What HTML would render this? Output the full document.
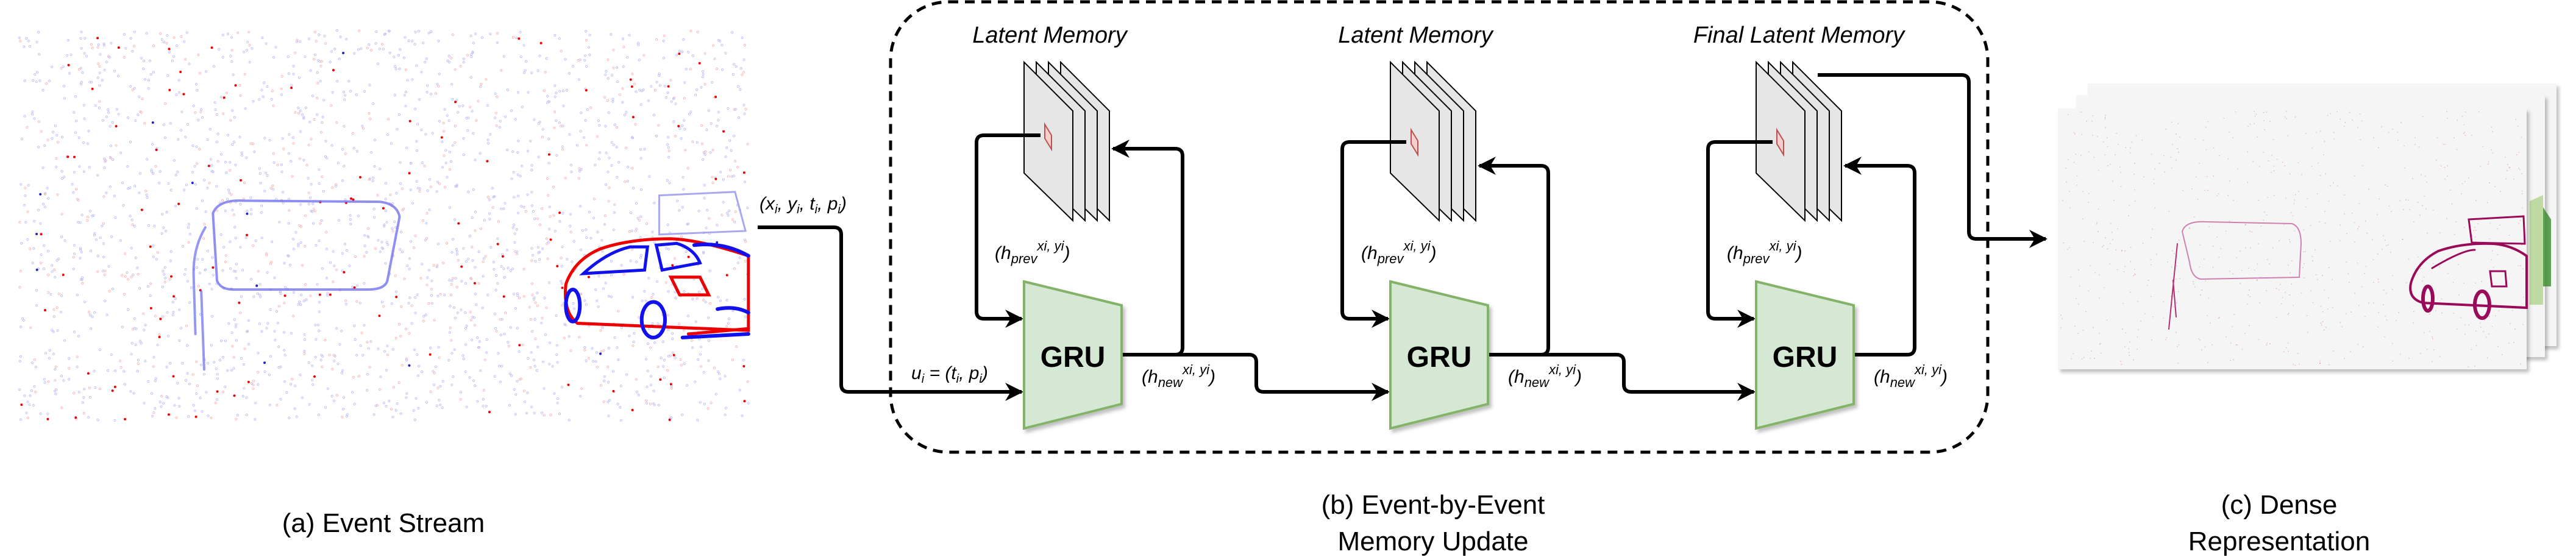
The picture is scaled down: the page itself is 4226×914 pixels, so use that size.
<!DOCTYPE html>
<html><head><meta charset="utf-8"><style>
html,body{margin:0;padding:0;background:#fff;overflow:hidden;}
svg{display:block;}
text{font-family:"Liberation Sans",sans-serif;}
</style></head><body>
<svg id="s" width="4226" height="914" viewBox="0 0 4226 914" xmlns="http://www.w3.org/2000/svg">
<defs>
<marker id="ar" viewBox="0 0 10 10" refX="9" refY="5" markerWidth="5" markerHeight="5" orient="auto" markerUnits="strokeWidth">
<path d="M0,0 L10,5 L0,10 L3,5 z" fill="#000"/>
</marker>
<filter id="sh" x="-5%" y="-5%" width="115%" height="115%"><feDropShadow dx="4" dy="5" stdDeviation="3" flood-color="#000" flood-opacity="0.25"/></filter>
</defs>

<g id="ev"></g>

<rect x="1461" y="3" width="1800" height="739" rx="95" fill="none" stroke="#000" stroke-width="5" stroke-dasharray="16 11"/>

<g id="stacks"></g>

<g fill="none" stroke="#000" stroke-width="6" stroke-linejoin="round">
<path d="M1243,373 H1368 Q1380,373 1380,385 V631 Q1380,643 1392,643 H1676" marker-end="url(#ar)"/>
<path d="M1707,222 H1614 Q1602,222 1602,234 V511 Q1602,523 1614,523 H1676" marker-end="url(#ar)"/>
<path d="M1840,582 H1928 Q1940,582 1940,570 V256 Q1940,244 1928,244 H1826" marker-end="url(#ar)"/>
<path d="M1840,582 H2049 Q2061,582 2061,594 V631 Q2061,643 2073,643 H2277" marker-end="url(#ar)"/>
<path d="M2307,233 H2214 Q2202,233 2202,245 V511 Q2202,523 2214,523 H2277" marker-end="url(#ar)"/>
<path d="M2440,582 H2528 Q2540,582 2540,570 V284 Q2540,272 2528,272 H2427" marker-end="url(#ar)"/>
<path d="M2440,582 H2652 Q2664,582 2664,594 V631 Q2664,643 2676,643 H2877" marker-end="url(#ar)"/>
<path d="M2908,233 H2814 Q2802,233 2802,245 V511 Q2802,523 2814,523 H2877" marker-end="url(#ar)"/>
<path d="M3041,582 H3129 Q3141,582 3141,570 V284 Q3141,272 3129,272 H3027" marker-end="url(#ar)"/>
<path d="M2982,123 H3218 Q3230,123 3230,135 V380 Q3230,392 3242,392 H3356" marker-end="url(#ar)"/>
</g>

<g filter="url(#sh)">
<polygon points="1680,462 1840,501 1840,663 1680,703" fill="#d5e8d4" stroke="#82b366" stroke-width="4"/>
<polygon points="2281,462 2441,501 2441,663 2281,703" fill="#d5e8d4" stroke="#82b366" stroke-width="4"/>
<polygon points="2881,462 3041,501 3041,663 2881,703" fill="#d5e8d4" stroke="#82b366" stroke-width="4"/>
</g>
<g font-size="48" font-weight="bold" text-anchor="middle">
<text x="1760" y="602">GRU</text>
<text x="2361" y="602">GRU</text>
<text x="2961" y="602">GRU</text>
</g>

<g font-size="38" font-style="italic" text-anchor="middle">
<text x="1722" y="70">Latent Memory</text>
<text x="2322" y="70">Latent Memory</text>
<text x="2951" y="70">Final Latent Memory</text>
</g>
<g font-size="30" font-style="italic">
<text x="1246" y="344">(x<tspan font-size="20" dy="6">i</tspan><tspan dy="-6">, y</tspan><tspan font-size="20" dy="6">i</tspan><tspan dy="-6">, t</tspan><tspan font-size="20" dy="6">i</tspan><tspan dy="-6">, p</tspan><tspan font-size="20" dy="6">i</tspan><tspan dy="-6">)</tspan></text>
<text x="1495" y="622">u<tspan font-size="20" dy="6">i</tspan><tspan dy="-6"> = (t</tspan><tspan font-size="20" dy="6">i</tspan><tspan dy="-6">, p</tspan><tspan font-size="20" dy="6">i</tspan><tspan dy="-6">)</tspan></text>

<text x="1632" y="425">(h<tspan font-size="22" dy="7">prev</tspan><tspan font-size="22" dy="-21">xi, yi</tspan><tspan dy="14">)</tspan></text>
<text x="2233" y="425">(h<tspan font-size="22" dy="7">prev</tspan><tspan font-size="22" dy="-21">xi, yi</tspan><tspan dy="14">)</tspan></text>
<text x="2833" y="425">(h<tspan font-size="22" dy="7">prev</tspan><tspan font-size="22" dy="-21">xi, yi</tspan><tspan dy="14">)</tspan></text>

<text x="1873" y="628">(h<tspan font-size="22" dy="7">new</tspan><tspan font-size="22" dy="-21">xi, yi</tspan><tspan dy="14">)</tspan></text>
<text x="2474" y="628">(h<tspan font-size="22" dy="7">new</tspan><tspan font-size="22" dy="-21">xi, yi</tspan><tspan dy="14">)</tspan></text>
<text x="3074" y="628">(h<tspan font-size="22" dy="7">new</tspan><tspan font-size="22" dy="-21">xi, yi</tspan><tspan dy="14">)</tspan></text>
</g>

<g id="dense"></g>

<g font-size="44" text-anchor="middle">
<text x="629" y="873">(a) Event Stream</text>
<text x="2351" y="843">(b) Event-by-Event</text>
<text x="2351" y="903">Memory Update</text>
<text x="3739" y="843">(c) Dense</text>
<text x="3739" y="903">Representation</text>
</g>

<script>
(function(){
var NS="http://www.w3.org/2000/svg";
function el(t,a,p){var e=document.createElementNS(NS,t);for(var k in a)e.setAttribute(k,a[k]);p.appendChild(e);return e;}
var seed=7;function r(){seed=(seed*16807)%2147483647;return seed/2147483647;}
var st=document.getElementById('stacks');
[1680,2281,2881].forEach(function(X,i){
 [60,40,20,0].forEach(function(d){
  el('polygon',{points:(X+d)+',102 '+(X+d+80)+',182 '+(X+d+80)+',362 '+(X+d)+',284',fill:'#e6e6e6',stroke:'#000','stroke-width':2},st);
 });
 var y0=i==0?204:213;
 el('polygon',{points:(X+34)+','+y0+' '+(X+45)+','+(y0+18)+' '+(X+45)+','+(y0+41)+' '+(X+34)+','+(y0+23),fill:'#f8cecc',stroke:'#b85450','stroke-width':2},st);
});
var ev=document.getElementById('ev');
for(var i=0;i<2200;i++){var x=32+r()*1196,y=50+r()*640;var red=r()<0.25;
 el('circle',{cx:x.toFixed(1),cy:y.toFixed(1),r:1.6,fill:'none',stroke:red?'#f8b8b8':'#c0c0f4','stroke-width':1},ev);}
for(var i=0;i<120;i++){var x=32+r()*1196,y=50+r()*640;
 el('circle',{cx:x.toFixed(1),cy:y.toFixed(1),r:2,fill:r()<0.85?'#e00':'#22c'},ev);}
var g=el('g',{fill:'none','stroke-linecap':'round',transform:'scale(0.957,0.583)'},ev);
function p(d,s,w,o){el('path',{d:d,stroke:s,'stroke-width':w,opacity:o||1,'vector-effect':'non-scaling-stroke'},g);}
p('M365,600 Q375,560 420,565 L650,568 Q680,572 685,610 L664,790 Q660,815 630,815 L400,815 Q378,815 372,790 Z','#6a6af0',4,0.75);
p('M352,640 Q330,700 332,780 L335,940 M345,820 L350,1040','#6a6af0',4,0.7);
p('M970,800 Q985,730 1030,700 Q1080,672 1150,672 Q1200,675 1283,720 L1283,930 L990,910 Q965,880 970,800 Z','#e00',5);
p('M1000,770 Q1040,710 1080,695 L1110,695 L1105,760 Z M1125,690 L1160,685 Q1190,700 1200,740 L1135,760 Z','#11e',5);
p('M970,860 a12,45 0 1,0 24,0 a12,45 0 1,0 -24,0 M1100,900 a20,50 0 1,0 40,0 a20,50 0 1,0 -40,0','#11e',6);
p('M1150,780 L1200,780 L1215,830 L1165,830 Z M1180,940 L1283,925','#e00',5);
p('M1130,550 L1260,540 L1278,650 L1130,660 Z','#a8a8f0',3);
p('M1190,690 Q1240,680 1283,720 M1230,870 Q1260,860 1283,880 M1170,950 L1283,940','#11e',6);
var dn=document.getElementById('dense');
[[3425,137,4194,568],[3406,156,4175,586],[3376,178,4145,606]].forEach(function(b,k){
 el('rect',{x:b[0],y:b[1],width:b[2]-b[0],height:b[3]-b[1],fill:'#f5f5f5',filter:'url(#sh)'},dn);
 if(k==1){el('path',{d:'M4150,330 L4172,320 L4172,500 L4150,500 Z',fill:'#a8d080',opacity:0.7},dn);
          el('path',{d:'M4172,340 L4185,360 L4185,470 L4172,470 Z',fill:'#3a8a2a',opacity:0.8},dn);}
});
for(var i=0;i<700;i++){var x=3380+r()*762,y=182+r()*420;
 el('rect',{x:x.toFixed(1),y:y.toFixed(1),width:1.5,height:1.5,fill:'#d070a0',opacity:0.5},dn);}
var c=el('g',{fill:'none','stroke-linecap':'round'},dn);
el('path',{d:'M3580,380 Q3585,362 3620,364 L3760,367 Q3775,372 3775,400 L3772,455 L3610,458 Q3595,455 3592,430 Z',stroke:'#d080b0','stroke-width':2},c);
el('path',{d:'M3572,400 L3558,540 M3565,460 L3570,520',stroke:'#b03070','stroke-width':2},c);
el('path',{d:'M3955,465 Q3965,430 4000,412 Q4040,398 4090,400 Q4120,402 4145,420 L4145,505 L3975,497 Q3950,490 3955,465 Z',stroke:'#9a0a5a','stroke-width':4},c);
el('path',{d:'M3975,490 a8,20 0 1,0 16,0 a8,20 0 1,0 -16,0 M4060,500 a12,22 0 1,0 24,0 a12,22 0 1,0 -24,0',stroke:'#9a0a5a','stroke-width':6},c);
el('path',{d:'M4050,360 L4140,355 L4142,400 L4055,398 Z M3990,440 Q4040,410 4060,410 M4085,445 L4110,445 L4112,470 L4088,470 Z',stroke:'#9a0a5a','stroke-width':3},c);
})();
</script>
</svg>
</body></html>
